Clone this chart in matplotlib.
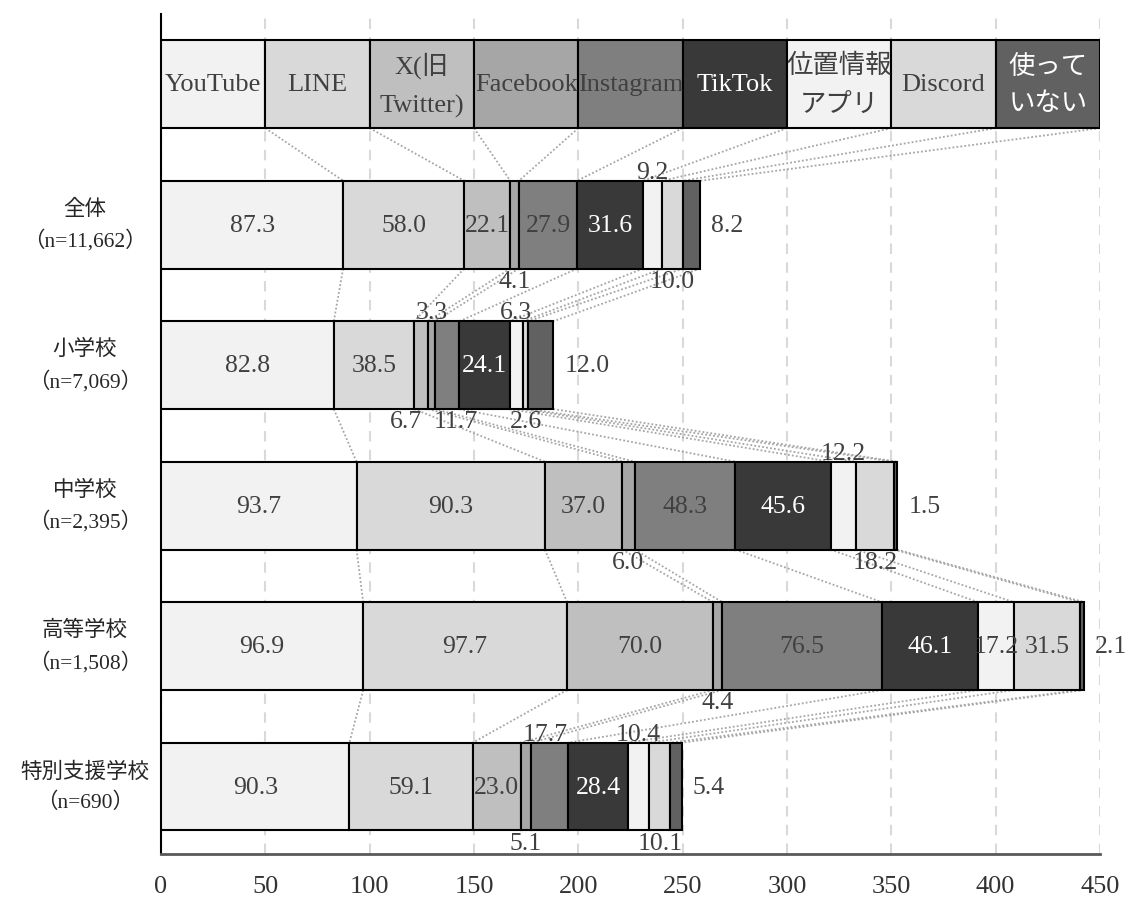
import matplotlib
matplotlib.use('Agg')
import matplotlib.pyplot as plt
from matplotlib.transforms import blended_transform_factory
import numpy as np

plt.rcParams['font.family'] = ['Liberation Serif', 'Noto Sans CJK JP', 'DejaVu Sans']

# ---------------- data ----------------
series = ['YouTube', 'LINE', 'X(旧\nTwitter)', 'Facebook', 'Instagram', 'TikTok',
          '位置情報\nアプリ', 'Discord', '使って\nいない']
header_values = [50, 50, 50, 50, 50, 50, 50, 50, 50]

groups = ['全体', '小学校', '中学校', '高等学校', '特別支援学校']
group_n = ['（n=11,662）', '（n=7,069）', '（n=2,395）', '（n=1,508）', '（n=690）']

v_all = [87.3, 58.0, 22.1, 4.1, 27.9, 31.6, 9.2, 10.0, 8.2]
v_elem = [82.8, 38.5, 6.7, 3.3, 11.7, 24.1, 6.3, 2.6, 12.0]
v_junior = [93.7, 90.3, 37.0, 6.0, 48.3, 45.6, 12.2, 18.2, 1.5]
v_high = [96.9, 97.7, 70.0, 4.4, 76.5, 46.1, 17.2, 31.5, 2.1]
v_special = [90.3, 59.1, 23.0, 5.1, 17.7, 28.4, 10.4, 10.1, 5.4]
group_values = [v_all, v_elem, v_junior, v_high, v_special]

# ---------------- style ----------------
colors = ['#f2f2f2', '#d9d9d9', '#bfbfbf', '#a6a6a6', '#7f7f7f', '#393939',
          '#f2f2f2', '#d9d9d9', '#616161']
txt_dark = '#404040'
text_colors = [txt_dark] * 5 + ['white', txt_dark, txt_dark, 'white']

# label placement (group index, series index) -> (position, x nudge in data units)
placement = {
    (0, 3): ('below', 0), (0, 6): ('above', 0), (0, 7): ('below', 0),
    (1, 2): ('below', -7), (1, 3): ('above', 0), (1, 4): ('below', 4),
    (1, 6): ('above', 0), (1, 7): ('below', 0),
    (2, 3): ('below', 0), (2, 6): ('above', 0), (2, 7): ('below', 0),
    (3, 3): ('below', 0),
    (4, 3): ('below', 0), (4, 4): ('above', -2), (4, 6): ('above', 0), (4, 7): ('below', 0),
}

W, H = 1130, 903
fig = plt.figure(figsize=(W / 100, H / 100), dpi=100)
ax = fig.add_axes([161 / W, 48 / H, 939 / W, 840 / H])

bar_h = 0.625
rows = [header_values] + group_values
nrows = len(rows)

ax.set_xlim(0, 450)
ax.set_ylim(5.48, -0.5)

# grid
ax.set_xticks(np.arange(0, 451, 50))
ax.xaxis.grid(True, color='#d9d9d9', linestyle=(0, (5, 4)), linewidth=1.5, zorder=0)
ax.set_axisbelow(True)

# bars
for i, vals in enumerate(rows):
    left = 0.0
    for k, v in enumerate(vals):
        ax.barh(i, v, left=left, height=bar_h, color=colors[k], edgecolor='black',
                linewidth=1.5, zorder=3)
        left += v

# series lines
for i in range(nrows - 1):
    c0 = np.cumsum(rows[i])
    c1 = np.cumsum(rows[i + 1])
    for k in range(len(series)):
        ax.plot([c0[k], c1[k]], [i + bar_h / 2, i + 1 - bar_h / 2], color='#a6a6a6',
                linestyle=(0, (1, 1.2)), linewidth=1.3, zorder=2)

# header text
c = np.cumsum(header_values)
for k, name in enumerate(series):
    xc = c[k] - header_values[k] / 2
    ax.text(xc, 0, name, ha='center', va='center', fontsize=19, color=text_colors[k],
            linespacing=1.85, zorder=5)

# value labels
fs = 18.5
for g, vals in enumerate(group_values):
    y = g + 1
    cs = np.cumsum(vals)
    for k, v in enumerate(vals):
        xc = cs[k] - v / 2
        lab = f'{v:.1f}'
        if k == len(vals) - 1:
            ax.annotate(lab, (cs[k], y), xytext=(8, 0), textcoords='offset points',
                        ha='left', va='center', fontsize=fs, color=txt_dark, zorder=5)
        elif (g, k) in placement:
            pos, dx = placement[(g, k)]
            if pos == 'above':
                ax.annotate(lab, (xc + dx, y - bar_h / 2), xytext=(0, 2),
                            textcoords='offset points', ha='center', va='baseline',
                            fontsize=fs, color=txt_dark, zorder=5)
            else:
                ax.annotate(lab, (xc + dx, y + bar_h / 2), xytext=(0, -1),
                            textcoords='offset points', ha='center', va='top',
                            fontsize=fs, color=txt_dark, zorder=5)
        else:
            ax.text(xc, y, lab, ha='center', va='center', fontsize=fs,
                    color=text_colors[k], zorder=5)

# category labels
trans = blended_transform_factory(fig.transFigure, ax.transData)
for g, (name, n) in enumerate(zip(groups, group_n)):
    ax.text(85 / W, g + 1, name + '\n' + n, transform=trans, ha='center', va='center',
            fontsize=15.5, color='#262626', linespacing=1.6, clip_on=False)

# axes styling
ax.set_yticks([])
ax.spines['top'].set_visible(False)
ax.spines['right'].set_visible(False)
ax.spines['left'].set_color('black')
ax.spines['left'].set_linewidth(1.5)
ax.spines['bottom'].set_color('#595959')
ax.spines['bottom'].set_linewidth(2)
ax.tick_params(axis='x', length=0, pad=15, labelsize=19, labelcolor='#333333')

fig.savefig('out.png', dpi=100)
